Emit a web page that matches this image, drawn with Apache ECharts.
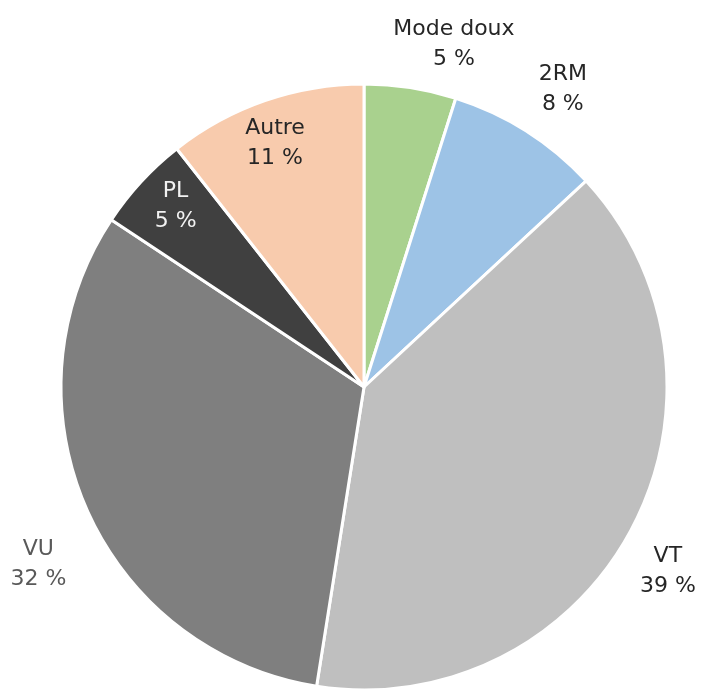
<!DOCTYPE html>
<html>
<head>
<meta charset="utf-8">
<script src="https://cdn.jsdelivr.net/npm/echarts@6/dist/echarts.min.js"></script>
<style>
  html, body { margin: 0; padding: 0; background: #fff; }
  #chart { width: 702px; height: 693px; }
</style>
</head>
<body>
<div id="chart"></div>
<script>
// parts of trips by mode (%), clockwise from top; labels are rounded
const categories = ['Mode doux', '2RM', 'VT', 'VU', 'PL', 'Autre']
const shares = [4.9, 8.2, 39.4, 31.8, 5.1, 10.6]
const colors = ['#a9d18e', '#9dc3e6', '#bfbfbf', '#7f7f7f', '#404040', '#f8cbad']
const insideLabels = ['PL', 'Autre']

// small nudges so labels sit where the original has them
const labelNudge = {
  'Mode doux': [35, 11],
  '2RM': [7, 5],
  'VT': [-12, 16],
  'VU': [2, 33],
  'PL': [5, -2],
  'Autre': [-3, 5]
}
const labelColor = {
  'VU': '#595959',
  'PL': '#f2f2f2'
}
const labelAlign = { 'VU': 'left' }

const chart = echarts.init(document.getElementById('chart'))

const center = [364, 387]
const fontFamily = 'DejaVu Sans'

const makeData = (showFn) => categories.map((name, i) => ({
  name,
  value: shares[i],
  label: {
    show: showFn(name),
    offset: labelNudge[name],
    align: labelAlign[name] || 'center',
    color: labelColor[name] || '#262626'
  }
}))

const labelSeries = (radius, showFn) => ({
  type: 'pie',
  center,
  radius,
  startAngle: 90,
  silent: true,
  animation: false,
  itemStyle: { color: 'transparent', borderWidth: 0 },
  labelLine: { show: false },
  label: {
    position: 'inside',
    fontFamily,
    fontSize: 22,
    lineHeight: 30,
    formatter: (p) => p.name + '\n' + Math.round(p.value) + ' %'
  },
  data: makeData(showFn)
})

const option = {
  backgroundColor: '#ffffff',
  animation: false,
  series: [
    {
      type: 'pie',
      center,
      radius: 303,
      startAngle: 90,
      label: { show: false },
      labelLine: { show: false },
      itemStyle: { borderColor: '#ffffff', borderWidth: 3 },
      data: categories.map((name, i) => ({
        name,
        value: shares[i],
        itemStyle: { color: colors[i] }
      }))
    },
    labelSeries([230, 290], (n) => insideLabels.includes(n)),
    labelSeries([320, 390], (n) => !insideLabels.includes(n))
  ]
}

chart.setOption(option)
</script>
</body>
</html>
